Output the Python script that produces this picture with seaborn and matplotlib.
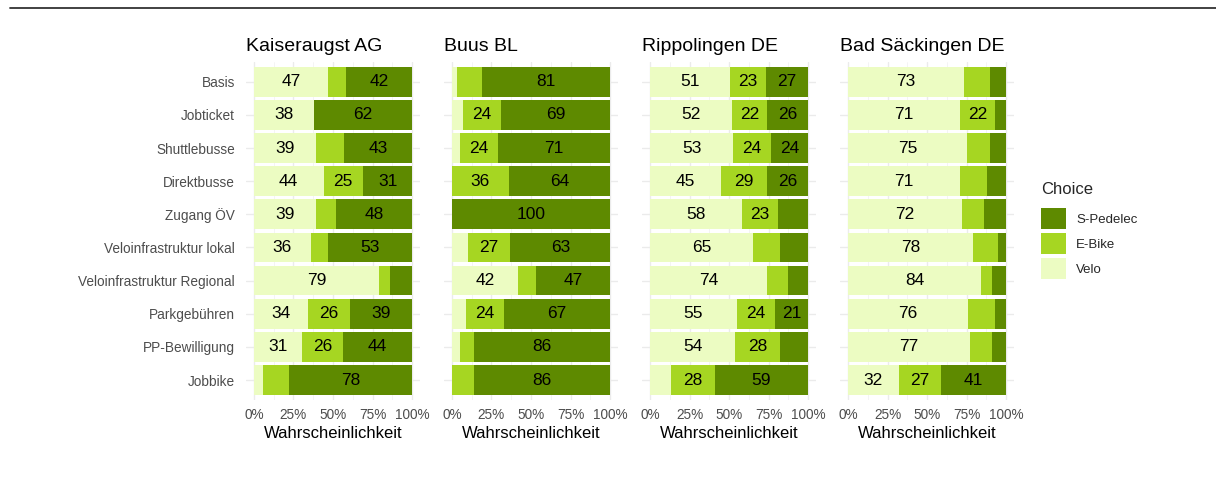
import numpy as np
import pandas as pd
import seaborn as sns
import matplotlib.pyplot as plt
from matplotlib.patches import Patch
from matplotlib.lines import Line2D

# Daten: Wahrscheinlichkeiten (%) pro Ort und Massnahme
orte = ['Kaiseraugst AG', 'Buus BL', 'Rippolingen DE', 'Bad Säckingen DE']
massnahmen = ['Basis', 'Jobticket', 'Shuttlebusse', 'Direktbusse', 'Zugang ÖV',
              'Veloinfrastruktur lokal', 'Veloinfrastruktur Regional',
              'Parkgebühren', 'PP-Bewilligung', 'Jobbike']
choices = ['Velo', 'E-Bike', 'S-Pedelec']

velo = {
    'Kaiseraugst AG':   [47, 38, 39, 44, 39, 36, 79, 34, 31, 6],
    'Buus BL':          [3, 7, 5, 0, 0, 10, 42, 9, 5, 0],
    'Rippolingen DE':   [51, 52, 53, 45, 58, 65, 74, 55, 54, 13],
    'Bad Säckingen DE': [73, 71, 75, 71, 72, 78, 84, 76, 77, 32],
}
ebike = {
    'Kaiseraugst AG':   [11, 0, 18, 25, 13, 11, 7, 26, 26, 16],
    'Buus BL':          [16, 24, 24, 36, 0, 27, 11, 24, 9, 14],
    'Rippolingen DE':   [23, 22, 24, 29, 23, 17, 13, 24, 28, 28],
    'Bad Säckingen DE': [17, 22, 15, 17, 14, 16, 7, 17, 14, 27],
}
spedelec = {
    'Kaiseraugst AG':   [42, 62, 43, 31, 48, 53, 14, 39, 44, 78],
    'Buus BL':          [81, 69, 71, 64, 100, 63, 47, 67, 86, 86],
    'Rippolingen DE':   [27, 26, 24, 26, 19, 18, 13, 21, 18, 59],
    'Bad Säckingen DE': [10, 7, 10, 12, 14, 5, 9, 7, 9, 41],
}

farben = {'S-Pedelec': '#5e8a00', 'E-Bike': '#a6d622', 'Velo': '#ecfcc2'}

rows = []
for ort in orte:
    for i, m in enumerate(massnahmen):
        for c, src in zip(choices, [velo, ebike, spedelec]):
            rows.append([ort, m, c, src[ort][i]])
df = pd.DataFrame(rows, columns=['Ort', 'Massnahme', 'Choice', 'Wert'])
# auf 100% normieren (gerundete Werte summieren nicht immer auf 100)
df['Anteil'] = df['Wert'] / df.groupby(['Ort', 'Massnahme'])['Wert'].transform('sum') * 100
df['Ende'] = df.groupby(['Ort', 'Massnahme'])['Anteil'].cumsum()
df['Mitte'] = df['Ende'] - df['Anteil'] / 2

sns.set_theme(style='white')
plt.rcParams['font.family'] = ['Liberation Sans', 'DejaVu Sans']

fig, axes = plt.subplots(1, 4, figsize=(12.16, 5.03), dpi=100, sharey=True)
fig.subplots_adjust(left=0.2023, right=0.834, top=0.877, bottom=0.205, wspace=0.138)

for ax, ort in zip(axes, orte):
    sub = df[df['Ort'] == ort]
    # gestapelte Balken: von hinten nach vorne zeichnen
    for c in reversed(choices):
        sns.barplot(data=sub[sub['Choice'] == c], x='Ende', y='Massnahme',
                    order=massnahmen, color=farben[c], saturation=1,
                    width=0.9, errorbar=None, ax=ax, zorder=2, linewidth=0)
    for _, r in sub.iterrows():
        if r['Wert'] >= 20:
            ax.text(r['Mitte'], massnahmen.index(r['Massnahme']), f"{r['Wert']:.0f}",
                    ha='center', va='center', fontsize=12.5, color='black', zorder=3)
    ax.set_xlim(-5, 105)
    ax.set_ylim(len(massnahmen) - 0.4, -0.6)
    ax.set_xticks([0, 25, 50, 75, 100])
    ax.set_xticklabels(['0%', '25%', '50%', '75%', '100%'])
    ax.set_xticks([12.5, 37.5, 62.5, 87.5], minor=True)
    ax.grid(True, which='major', color='#ebebeb', linewidth=1.0, zorder=0)
    ax.grid(True, which='minor', axis='x', color='#f3f3f3', linewidth=0.6, zorder=0)
    ax.set_axisbelow(True)
    for s in ax.spines.values():
        s.set_visible(False)
    ax.tick_params(axis='both', length=0, labelsize=9.8, colors='#4d4d4d')
    ax.tick_params(axis='x', pad=6)
    ax.tick_params(axis='y', pad=8)
    ax.set_xlabel('Wahrscheinlichkeit', fontsize=12, color='black', labelpad=3)
    ax.set_ylabel('')
    ax.set_title(ort, loc='left', fontsize=14, color='black', pad=8)

handles = [Patch(facecolor=farben[c], edgecolor='none') for c in ['S-Pedelec', 'E-Bike', 'Velo']]
leg = fig.legend(handles, ['S-Pedelec', 'E-Bike', 'Velo'], title='Choice',
                 loc='upper left', bbox_to_anchor=(0.852, 0.648), frameon=False,
                 fontsize=9.5, title_fontsize=12, handlelength=1.85, handleheight=2.0,
                 labelspacing=0.35, handletextpad=0.8, borderaxespad=0)
leg._legend_box.align = 'left'
leg._legend_box.sep = 8

fig.add_artist(Line2D([0.008, 1.0], [1 - 8 / 503, 1 - 8 / 503], color='#333333',
                      linewidth=1.3, transform=fig.transFigure))

fig.savefig('out.png', dpi=100)
